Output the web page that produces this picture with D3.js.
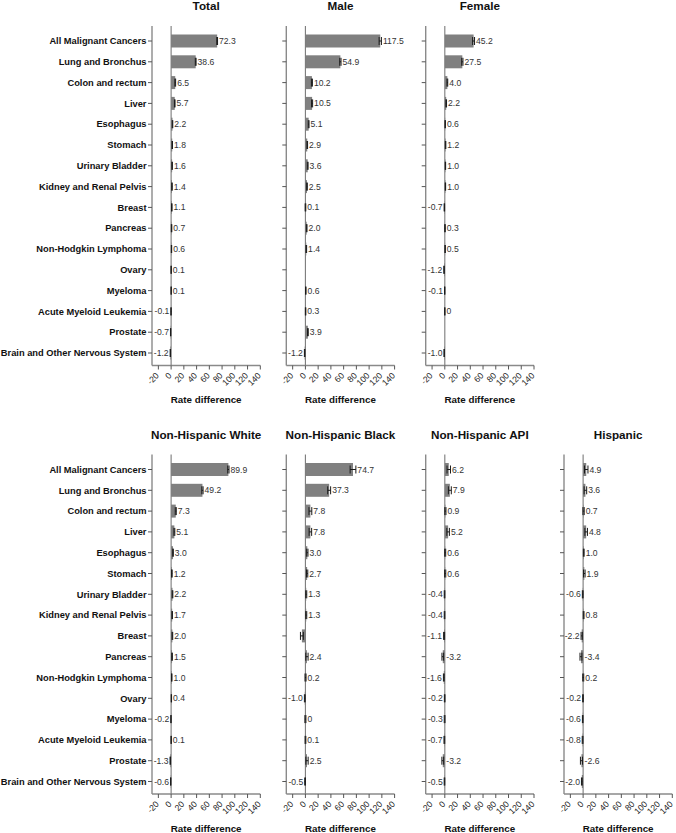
<!DOCTYPE html>
<html>
<head>
<meta charset="utf-8">
<script src="https://cdn.jsdelivr.net/npm/d3@7"></script>
<style>
  html, body { margin: 0; padding: 0; background: #fff; }
  svg { display: block; font-family: "Liberation Sans", Arial, sans-serif; }
</style>
</head>
<body>
<svg id="chart" width="676" height="833"></svg>
<script>
const categories = ["All Malignant Cancers","Lung and Bronchus","Colon and rectum","Liver","Esophagus","Stomach","Urinary Bladder","Kidney and Renal Pelvis","Breast","Pancreas","Non-Hodgkin Lymphoma","Ovary","Myeloma","Acute Myeloid Leukemia","Prostate","Brain and Other Nervous System"];
const panelNames = ["Total","Male","Female","Non-Hispanic White","Non-Hispanic Black","Non-Hispanic API","Hispanic"];
const xTicks = [-20, 0, 20, 40, 60, 80, 100, 120, 140];
const xTitle = "Rate difference";

const totalValues = [72.3, 38.6, 6.5, 5.7, 2.2, 1.8, 1.6, 1.4, 1.1, 0.7, 0.6, 0.1, 0.1, -0.1, -0.7, -1.2];
const totalCI     = [0.6, 0.6, 0.6, 0.5, 0.4, 0.4, 0.4, 0.4, 0.4, 0.4, 0.3, 0.3, 0.3, 0.3, 0.3, 0.3];
const maleValues  = [117.5, 54.9, 10.2, 10.5, 5.1, 2.9, 3.6, 2.5, 0.1, 2.0, 1.4, null, 0.6, 0.3, 3.9, -1.2];
const maleCI      = [1.8, 1.0, 0.8, 0.8, 0.6, 0.5, 0.6, 0.5, 0.5, 0.5, 0.5, null, 0.4, 0.4, 0.6, 0.4];
const femaleValues= [45.2, 27.5, 4.0, 2.2, 0.6, 1.2, 1.0, 1.0, -0.7, 0.3, 0.5, -1.2, -0.1, 0, null, -1.0];
const femaleCI    = [1.5, 1.0, 0.6, 0.5, 0.3, 0.4, 0.3, 0.3, 0.4, 0.4, 0.3, 0.4, 0.3, 0.3, null, 0.3];
const nhWhiteValues = [89.9, 49.2, 7.3, 5.1, 3.0, 1.2, 2.2, 1.7, 2.0, 1.5, 1.0, 0.4, -0.2, 0.1, -1.3, -0.6];
const nhWhiteCI     = [1.0, 1.0, 0.8, 0.7, 0.5, 0.5, 0.5, 0.4, 0.5, 0.5, 0.4, 0.3, 0.3, 0.3, 0.4, 0.3];
const nhBlackValues = [74.7, 37.3, 7.8, 7.8, 3.0, 2.7, 1.3, 1.3, -5.5, 2.4, 0.2, -1.0, 0, 0.1, 2.5, -0.5];
const nhBlackCI     = [4.5, 2.3, 2.2, 2.0, 1.0, 1.0, 0.8, 0.8, 2.3, 1.8, 0.8, 0.6, 0.8, 0.6, 1.8, 0.6];
const nhApiValues   = [6.2, 7.9, 0.9, 5.2, 0.6, 0.6, -0.4, -0.4, -1.1, -3.2, -1.6, -0.2, -0.3, -0.7, -3.2, -0.5];
const nhApiCI       = [2.7, 2.3, 0.9, 2.0, 0.8, 0.9, 0.5, 0.5, 0.8, 1.3, 0.6, 0.5, 0.6, 0.6, 1.4, 0.5];
const hispanicValues= [4.9, 3.6, 0.7, 4.8, 1.0, 1.9, -0.6, 0.8, -2.2, -3.4, 0.2, -0.2, -0.6, -0.8, -2.6, -2.0];
const hispanicCI    = [2.7, 2.0, 1.0, 2.0, 0.6, 1.2, 0.6, 0.6, 1.0, 1.5, 0.8, 0.5, 0.5, 0.6, 1.6, 0.6];
// value labels not printed in the source figure
const hiddenLabels = [["Non-Hispanic Black", "Breast"]];

const panelValues = [totalValues, maleValues, femaleValues, nhWhiteValues, nhBlackValues, nhApiValues, hispanicValues];
const panelCI = [totalCI, maleCI, femaleCI, nhWhiteCI, nhBlackCI, nhApiCI, hispanicCI];

// layout
const panelLeft = [152, 286.3, 425.7, 152, 286.3, 425.7, 564];
const panelRow  = [0, 0, 0, 1, 1, 1, 1];
const rowOffset = 428.5;
const panelWidth = 108.3;
const axisTop = 26, axisBottom = 365.5;
const barH = 13, capH = 8;

const svg = d3.select("#chart");

const y0 = d3.scalePoint().domain(categories).range([41, 353]);

panelNames.forEach((name, pi) => {
  const off = panelRow[pi] * rowOffset;
  const left = panelLeft[pi];
  const x = d3.scaleLinear().domain([-30, 140]).range([left, left + panelWidth]);
  const y = c => y0(c) + off;
  const g = svg.append("g");

  // title
  g.append("text")
    .attr("x", left + panelWidth / 2).attr("y", 10 + off)
    .attr("text-anchor", "middle")
    .attr("font-size", "11.7px").attr("font-weight", "bold").attr("fill", "#111")
    .text(name);

  // y axis line
  g.append("line")
    .attr("x1", left).attr("x2", left)
    .attr("y1", axisTop + off).attr("y2", axisBottom + off)
    .attr("stroke", "#8a8a8a").attr("stroke-width", 1.4);
  // x axis line
  g.append("line")
    .attr("x1", left).attr("x2", left + panelWidth)
    .attr("y1", axisBottom + off).attr("y2", axisBottom + off)
    .attr("stroke", "#8a8a8a").attr("stroke-width", 1.4);

  // y ticks
  g.selectAll(".yt").data(categories).enter().append("line")
    .attr("x1", left - 4).attr("x2", left)
    .attr("y1", d => y(d)).attr("y2", d => y(d))
    .attr("stroke", "#555").attr("stroke-width", 1);

  if (pi === 0 || pi === 3) {
    g.selectAll(".yl").data(categories).enter().append("text")
      .attr("x", left - 5.5).attr("y", d => y(d))
      .attr("dy", "0.35em")
      .attr("text-anchor", "end")
      .attr("font-size", "9.3px").attr("font-weight", "bold").attr("fill", "#111")
      .text(d => d);
  }

  // x ticks
  g.selectAll(".xt").data(xTicks).enter().append("line")
    .attr("x1", d => x(d)).attr("x2", d => x(d))
    .attr("y1", axisBottom + off).attr("y2", axisBottom + off + 4)
    .attr("stroke", "#555").attr("stroke-width", 1);
  g.selectAll(".xl").data(xTicks).enter().append("text")
    .attr("transform", d => `translate(${x(d) - 1},${axisBottom + off + 8.5}) rotate(-45)`)
    .attr("text-anchor", "end").attr("dy", "0.35em")
    .attr("font-size", "8.6px").attr("fill", "#222")
    .text(d => d);

  g.append("text")
    .attr("x", left + panelWidth / 2).attr("y", 403 + off)
    .attr("text-anchor", "middle")
    .attr("font-size", "9.8px").attr("font-weight", "bold").attr("fill", "#111")
    .text(xTitle);

  const data = categories.map((c, i) => ({ c, v: panelValues[pi][i], ci: panelCI[pi][i] }))
    .filter(d => d.v !== null);

  // bars
  g.selectAll(".bar").data(data).enter().append("rect")
    .attr("x", d => Math.min(x(0), x(d.v)))
    .attr("width", d => Math.abs(x(d.v) - x(0)))
    .attr("y", d => y(d.c) - barH / 2).attr("height", barH)
    .attr("fill", "#808080");

  // zero line
  g.append("line")
    .attr("x1", x(0)).attr("x2", x(0))
    .attr("y1", axisTop + off).attr("y2", axisBottom + off)
    .attr("stroke", "#7a7a7a").attr("stroke-width", 1.1);

  // error bars
  const eb = g.selectAll(".eb").data(data).enter().append("g").attr("stroke", "#1a1a1a").attr("stroke-width", 1);
  eb.append("line")
    .attr("x1", d => x(d.v - d.ci)).attr("x2", d => x(d.v + d.ci))
    .attr("y1", d => y(d.c)).attr("y2", d => y(d.c));
  eb.append("line")
    .attr("x1", d => x(d.v - d.ci)).attr("x2", d => x(d.v - d.ci))
    .attr("y1", d => y(d.c) - capH / 2).attr("y2", d => y(d.c) + capH / 2);
  eb.append("line")
    .attr("x1", d => x(d.v + d.ci)).attr("x2", d => x(d.v + d.ci))
    .attr("y1", d => y(d.c) - capH / 2).attr("y2", d => y(d.c) + capH / 2);

  // value labels
  const hidden = d => hiddenLabels.some(h => h[0] === name && h[1] === d.c);
  const rightSide = d => d.v >= 0 || d.v <= -2.5;
  g.selectAll(".vl").data(data.filter(d => !hidden(d))).enter().append("text")
    .attr("x", d => rightSide(d) ? Math.max(x(0), x(d.v + d.ci)) + 1.5 : x(d.v - d.ci) - 1.5)
    .attr("y", d => y(d.c)).attr("dy", "0.35em")
    .attr("text-anchor", d => rightSide(d) ? "start" : "end")
    .attr("font-size", "8.6px").attr("fill", "#333")
    .text(d => d.v === 0 ? "0" : d.v.toFixed(1));
});
</script>
</body>
</html>
